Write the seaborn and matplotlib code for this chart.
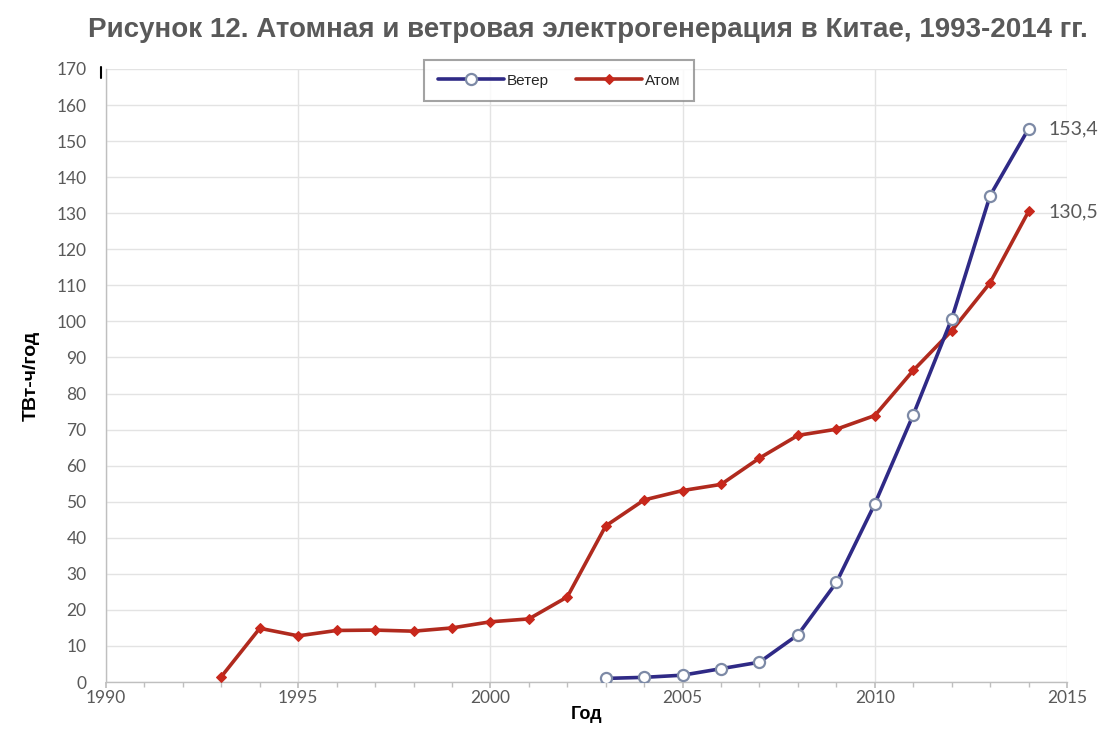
import matplotlib
matplotlib.use("Agg")
import matplotlib.pyplot as plt
import seaborn as sns
import pandas as pd
from matplotlib.ticker import MultipleLocator

wind_years = [2003, 2004, 2005, 2006, 2007, 2008, 2009, 2010, 2011, 2012, 2013, 2014]
wind_values = [1.0, 1.3, 1.9, 3.7, 5.5, 13.1, 27.6, 49.4, 74.1, 100.7, 134.9, 153.4]

atom_years = list(range(1993, 2015))
atom_values = [1.5, 14.9, 12.8, 14.3, 14.4, 14.1, 15.0, 16.7, 17.5, 23.6, 43.3, 50.5,
               53.1, 54.8, 62.1, 68.4, 70.1, 73.9, 86.4, 97.4, 110.7, 130.5]

series_names = ["Ветер", "Атом"]
title = "Рисунок 12. Атомная и ветровая электрогенерация в Китае, 1993-2014 гг."
xlabel = "Год"
ylabel = "ТВт-ч/год"
end_labels = ["153,4", "130,5"]

sns.set_theme(style="white")
plt.rcParams['font.family'] = ['Liberation Sans', 'DejaVu Sans']

wind_df = pd.DataFrame({"year": wind_years, "value": wind_values})
atom_df = pd.DataFrame({"year": atom_years, "value": atom_values})

fig = plt.figure(figsize=(11, 7.44), dpi=100)
ax = fig.add_axes([0.0964, 0.0833, 0.8736, 0.8240])

wind_color = "#2F2A86"
atom_color = "#B02A1E"

sns.lineplot(data=atom_df, x="year", y="value", ax=ax, color=atom_color, lw=2.6,
             marker="D", markersize=5.5, markerfacecolor="#C8281C",
             markeredgecolor="#C8281C", label=series_names[1], zorder=3)
sns.lineplot(data=wind_df, x="year", y="value", ax=ax, color=wind_color, lw=2.6,
             marker="o", markersize=8, markerfacecolor="white",
             markeredgecolor="#7D8AA6", markeredgewidth=1.6,
             label=series_names[0], zorder=4)

ax.set_xlim(1990, 2015)
ax.set_ylim(0, 170)
ax.xaxis.set_major_locator(MultipleLocator(5))
ax.xaxis.set_minor_locator(MultipleLocator(1))
ax.yaxis.set_major_locator(MultipleLocator(10))

ax.grid(True, which="major", color="#E3E3E3", lw=1.0)
ax.set_axisbelow(True)
for s in ["top", "right"]:
    ax.spines[s].set_visible(False)
for s in ["left", "bottom"]:
    ax.spines[s].set_color("#BFBFBF")
    ax.spines[s].set_linewidth(1.0)

ax.tick_params(axis="x", which="both", direction="out", length=4, color="#BFBFBF",
               bottom=True, labelsize=12.5, labelcolor="#595959", pad=2)
ax.tick_params(axis="x", which="minor", length=3.5)
ax.tick_params(axis="y", which="both", left=False, length=0, labelsize=12.5,
               labelcolor="#595959", pad=14)
for lab in ax.get_xticklabels() + ax.get_yticklabels():
    lab.set_family(["Lato", "DejaVu Sans"])

ax.set_xlabel(xlabel, fontsize=13, fontweight="bold", color="black", labelpad=0)
ax.set_ylabel(ylabel, fontsize=14, fontweight="bold", color="black", labelpad=12)

ax.annotate(end_labels[0], xy=(wind_years[-1], wind_values[-1]), xytext=(14, 0),
            textcoords="offset points", va="center", ha="left", fontsize=14,
            color="#595959", family=["Lato", "DejaVu Sans"])
ax.annotate(end_labels[1], xy=(atom_years[-1], atom_values[-1]), xytext=(14, 0),
            textcoords="offset points", va="center", ha="left", fontsize=14,
            color="#595959", family=["Lato", "DejaVu Sans"])

handles, labels = ax.get_legend_handles_labels()
order = [labels.index(series_names[0]), labels.index(series_names[1])]
leg = ax.legend([handles[i] for i in order], [labels[i] for i in order],
                loc="upper center", bbox_to_anchor=(0.4716, 1.015), ncol=2,
                fontsize=11, frameon=True, fancybox=False, edgecolor="#8C8C8C",
                handlelength=4.3, columnspacing=1.8, borderpad=0.9,
                handletextpad=0.2, borderaxespad=0)
leg.get_frame().set_linewidth(1.5)

fig.text(0.534, 0.96, title, ha="center", va="center", fontsize=20,
         fontweight="bold", color="#595959")
fig.add_artist(plt.Line2D([0.092, 0.092], [0.895, 0.91], color="black", lw=1.5))

fig.savefig("out.png", dpi=100)
